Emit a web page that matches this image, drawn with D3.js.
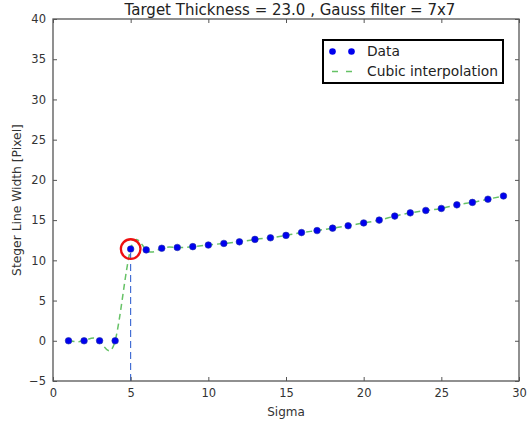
<!DOCTYPE html>
<html><head><meta charset="utf-8">
<script src="https://cdn.jsdelivr.net/npm/d3@7"></script>
<style>
html,body{margin:0;padding:0;background:#fff;}
svg{display:block;font-family:"DejaVu Sans",sans-serif;}
</style></head>
<body><svg id="c" width="527" height="426"></svg>
<script>
const sigma = [1,2,3,4,5,6,7,8,9,10,11,12,13,14,15,16,17,18,19,20,21,22,23,24,25,26,27,28,29];
const width = [0,0,0,0,11.4,11.3,11.5,11.6,11.7,11.9,12.1,12.3,12.6,12.8,13.1,13.45,13.7,14.0,14.3,14.65,15.0,15.5,15.9,16.2,16.45,16.9,17.2,17.6,18.0];
const xTicks = [0,5,10,15,20,25,30];
const yTicks = [-5,0,5,10,15,20,25,30,35,40];
const markSigma = 5, markWidth = 11.4;
const titleText = "Target Thickness = 23.0 , Gauss filter = 7x7";
const xLabel = "Sigma", yLabel = "Steger Line Width [Pixel]";
const legendLabels = ["Data","Cubic interpolation"];

const svg = d3.select("#c");
const L=53, R=519, T=19, B=381;
const x = d3.scaleLinear().domain([0,30]).range([L,R]);
const y = d3.scaleLinear().domain([-5,40]).range([B,T]);
const axisColor = "#555", textColor = "#333";
const green = "#66c266";

const pts = sigma.map((s,i)=>[s,width[i]]);
// cubic interpolation
svg.append("path")
  .attr("d", d3.line().x(d=>x(d[0])).y(d=>y(d[1])).curve(d3.curveNatural)(pts))
  .attr("fill","none").attr("stroke",green).attr("stroke-width",1.5)
  .attr("stroke-dasharray","6,4");
// vertical dashed line
svg.append("line").attr("x1",x(markSigma)).attr("x2",x(markSigma))
  .attr("y1",y(-5)).attr("y2",y(markWidth))
  .attr("stroke","#2255cc").attr("stroke-width",1).attr("stroke-dasharray","7,4");
// points
svg.append("g").selectAll("circle").data(pts).join("circle")
  .attr("cx",d=>x(d[0])).attr("cy",d=>y(d[1])).attr("r",3.3)
  .attr("fill","#0000ee").attr("stroke","#2233aa").attr("stroke-width",0.6);
// red circle
svg.append("circle").attr("cx",x(markSigma)).attr("cy",y(markWidth)).attr("r",9.8)
  .attr("fill","none").attr("stroke","#ee1111").attr("stroke-width",2.3);

// frame
svg.append("rect").attr("x",L).attr("y",T).attr("width",R-L).attr("height",B-T)
  .attr("fill","none").attr("stroke",axisColor).attr("stroke-width",1.3);

// axes with inside ticks
const tl = 4;
const gx = svg.append("g").attr("transform",`translate(0,${B})`)
  .call(d3.axisBottom(x).tickValues(xTicks).tickSize(-tl).tickPadding(8).tickFormat(d3.format("d")));
const gxt = svg.append("g").attr("transform",`translate(0,${T})`)
  .call(d3.axisTop(x).tickValues(xTicks).tickSize(-tl).tickFormat(""));
const gy = svg.append("g").attr("transform",`translate(${L},0)`)
  .call(d3.axisLeft(y).tickValues(yTicks).tickSize(-tl).tickPadding(7).tickFormat(d=>d<0?"\u2212"+(-d):d));
const gyr = svg.append("g").attr("transform",`translate(${R},0)`)
  .call(d3.axisRight(y).tickValues(yTicks).tickSize(-tl).tickFormat(""));
[gx,gxt,gy,gyr].forEach(g=>{
  g.select(".domain").remove();
  g.selectAll(".tick line").attr("stroke",axisColor).attr("stroke-width",1);
  g.selectAll("text").attr("fill",textColor).attr("font-size",11.5).attr("font-family","DejaVu Sans");
});

// title & labels
svg.append("text").attr("x",(L+R)/2 + 4).attr("y",15).attr("text-anchor","middle")
  .attr("font-size",15).attr("fill","#222").text(titleText);
svg.append("text").attr("x",(L+R)/2).attr("y",416).attr("text-anchor","middle")
  .attr("font-size",12).attr("fill",textColor).text(xLabel);
svg.append("text").attr("transform",`translate(21,${(T+B)/2}) rotate(-90)`).attr("text-anchor","middle")
  .attr("font-size",12.3).attr("fill",textColor).text(yLabel);

// legend
const lg = svg.append("g");
lg.append("rect").attr("x",323).attr("y",40).attr("width",180).attr("height",43)
  .attr("fill","#fff").attr("stroke","#000").attr("stroke-width",2);
[332.5,351.5].forEach(cx=>lg.append("circle").attr("cx",cx).attr("cy",51.5).attr("r",3.3).attr("fill","#0000ee"));
lg.append("line").attr("x1",332).attr("x2",352).attr("y1",71.5).attr("y2",71.5)
  .attr("stroke",green).attr("stroke-width",1.5).attr("stroke-dasharray","6,8");
lg.append("text").attr("x",367).attr("y",56).attr("font-size",13.8).attr("fill","#222").text(legendLabels[0]);
lg.append("text").attr("x",367).attr("y",76).attr("font-size",13.8).attr("fill","#222").text(legendLabels[1]);
</script></body></html>
